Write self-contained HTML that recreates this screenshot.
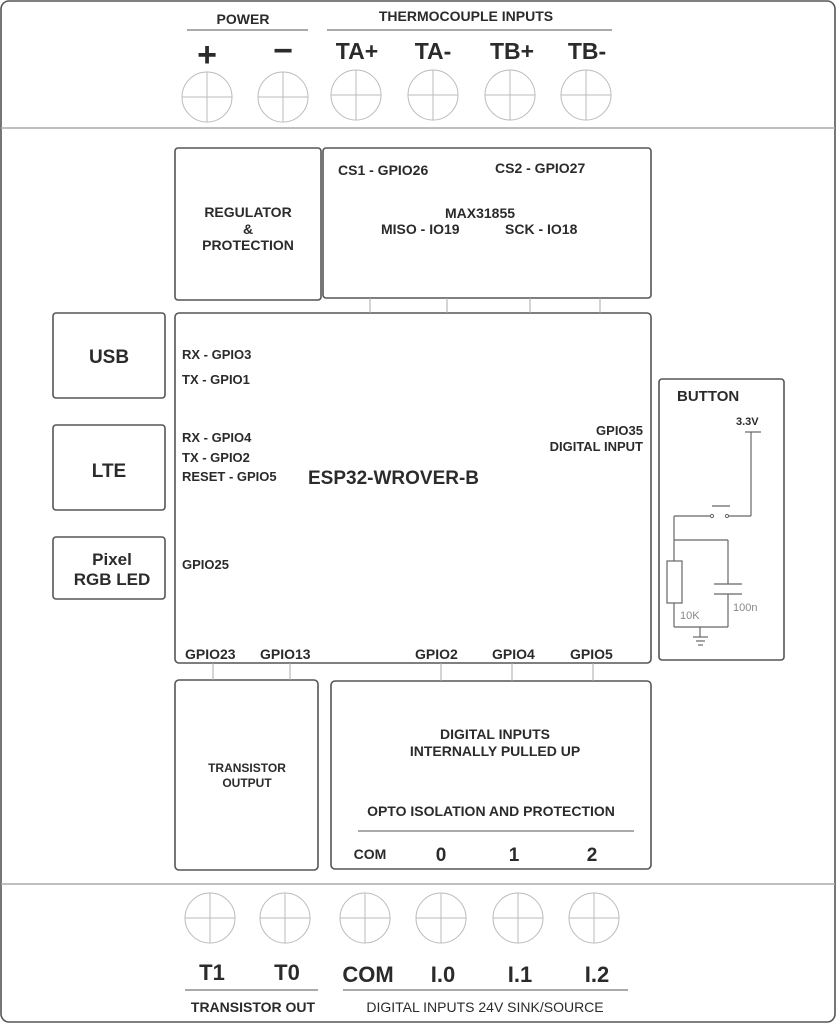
<!DOCTYPE html>
<html><head><meta charset="utf-8"><style>
html,body{margin:0;padding:0;background:#fff;}
svg{display:block;}
text{font-family:"Liberation Sans",sans-serif;font-weight:bold;fill:#2b2b2b;}
</style></head><body>
<svg width="838" height="1024" viewBox="0 0 838 1024" xmlns="http://www.w3.org/2000/svg">
<g fill="none" stroke="#555" stroke-width="1.6">
<rect x="1" y="1" width="834" height="1021" rx="8"/>
<line x1="1" y1="128" x2="835" y2="128" stroke="#aaa"/>
<line x1="1" y1="884" x2="835" y2="884" stroke="#aaa"/>
<rect x="175" y="148" width="146" height="152" rx="3"/>
<rect x="323" y="148" width="328" height="150" rx="3"/>
<rect x="175" y="313" width="476" height="350" rx="4"/>
<rect x="53" y="313" width="112" height="85" rx="3"/>
<rect x="53" y="425" width="112" height="85" rx="3"/>
<rect x="53" y="537" width="112" height="62" rx="3"/>
<rect x="659" y="379" width="125" height="281" rx="3"/>
<rect x="175" y="680" width="143" height="190" rx="4"/>
<rect x="331" y="681" width="320" height="188" rx="4"/>
</g>
<g stroke="#aaa" stroke-width="1">
<line x1="370" y1="298" x2="370" y2="313"/><line x1="447" y1="298" x2="447" y2="313"/>
<line x1="530" y1="298" x2="530" y2="313"/><line x1="600" y1="298" x2="600" y2="313"/>
<line x1="213" y1="663" x2="213" y2="680"/><line x1="290" y1="663" x2="290" y2="680"/>
<line x1="441" y1="663" x2="441" y2="681"/><line x1="512" y1="663" x2="512" y2="681"/>
<line x1="593" y1="663" x2="593" y2="681"/>
</g>
<g stroke="#777" stroke-width="1.3">
<line x1="187" y1="30" x2="308" y2="30"/><line x1="327" y1="30" x2="612" y2="30"/>
<line x1="358" y1="831" x2="634" y2="831"/>
<line x1="185" y1="990" x2="318" y2="990"/><line x1="343" y1="990" x2="628" y2="990"/>
</g>
<g fill="none" stroke="#bbb" stroke-width="1">
<g id="c"></g>
<circle cx="207" cy="97" r="25"/><line x1="182" y1="97" x2="232" y2="97"/><line x1="207" y1="72" x2="207" y2="122"/>
<circle cx="283" cy="97" r="25"/><line x1="258" y1="97" x2="308" y2="97"/><line x1="283" y1="72" x2="283" y2="122"/>
<circle cx="356" cy="95" r="25"/><line x1="331" y1="95" x2="381" y2="95"/><line x1="356" y1="70" x2="356" y2="120"/>
<circle cx="433" cy="95" r="25"/><line x1="408" y1="95" x2="458" y2="95"/><line x1="433" y1="70" x2="433" y2="120"/>
<circle cx="510" cy="95" r="25"/><line x1="485" y1="95" x2="535" y2="95"/><line x1="510" y1="70" x2="510" y2="120"/>
<circle cx="586" cy="95" r="25"/><line x1="561" y1="95" x2="611" y2="95"/><line x1="586" y1="70" x2="586" y2="120"/>
<circle cx="210" cy="918" r="25"/><line x1="185" y1="918" x2="235" y2="918"/><line x1="210" y1="893" x2="210" y2="943"/>
<circle cx="285" cy="918" r="25"/><line x1="260" y1="918" x2="310" y2="918"/><line x1="285" y1="893" x2="285" y2="943"/>
<circle cx="365" cy="918" r="25"/><line x1="340" y1="918" x2="390" y2="918"/><line x1="365" y1="893" x2="365" y2="943"/>
<circle cx="441" cy="918" r="25"/><line x1="416" y1="918" x2="466" y2="918"/><line x1="441" y1="893" x2="441" y2="943"/>
<circle cx="518" cy="918" r="25"/><line x1="493" y1="918" x2="543" y2="918"/><line x1="518" y1="893" x2="518" y2="943"/>
<circle cx="594" cy="918" r="25"/><line x1="569" y1="918" x2="619" y2="918"/><line x1="594" y1="893" x2="594" y2="943"/>
</g>
<!-- button circuit -->
<g fill="none" stroke="#666" stroke-width="1.2">
<line x1="745" y1="432" x2="761" y2="432"/>
<line x1="751" y1="432" x2="751" y2="516"/>
<line x1="751" y1="516" x2="727" y2="516"/>
<line x1="712" y1="506" x2="730" y2="506"/>
<line x1="712" y1="516" x2="674" y2="516"/>
<line x1="674" y1="516" x2="674" y2="627"/>
<line x1="674" y1="540" x2="728" y2="540"/>
<line x1="728" y1="540" x2="728" y2="584"/>
<line x1="714" y1="584" x2="742" y2="584"/>
<line x1="714" y1="594" x2="742" y2="594"/>
<line x1="728" y1="594" x2="728" y2="627"/>
<line x1="674" y1="627" x2="728" y2="627"/>
<rect x="667" y="561" width="15" height="42" fill="#fff"/>
<line x1="700" y1="627" x2="700" y2="637"/>
<line x1="693" y1="637" x2="708" y2="637"/><line x1="696" y1="641" x2="705" y2="641"/><line x1="698" y1="645" x2="703" y2="645"/>
</g>
<circle cx="712" cy="516" r="1.6" fill="#fff" stroke="#666"/><circle cx="727" cy="516" r="1.6" fill="#fff" stroke="#666"/>
<text x="677" y="401" font-size="15">BUTTON</text>
<text x="736" y="425" font-size="11">3.3V</text>
<text x="680" y="619" font-size="11" style="font-weight:normal;fill:#888">10K</text>
<text x="733" y="611" font-size="11" style="font-weight:normal;fill:#888">100n</text>

<g text-anchor="middle">
<text x="243" y="24" font-size="14">POWER</text>
<text x="466" y="21" font-size="14">THERMOCOUPLE  INPUTS</text>
<text x="207" y="66" font-size="34">+</text>
<text x="283" y="62" font-size="34">−</text>
<text x="357" y="59" font-size="23">TA+</text>
<text x="433" y="59" font-size="23">TA-</text>
<text x="512" y="59" font-size="23">TB+</text>
<text x="587" y="59" font-size="23">TB-</text>
<text x="248" y="217" font-size="14">REGULATOR</text>
<text x="248" y="234" font-size="14">&amp;</text>
<text x="248" y="250" font-size="14">PROTECTION</text>
<text x="480" y="218" font-size="14">MAX31855</text>
<text x="109" y="363" font-size="19">USB</text>
<text x="109" y="477" font-size="19">LTE</text>
<text x="112" y="565" font-size="17">Pixel</text>
<text x="112" y="585" font-size="17">RGB LED</text>
<text x="247" y="772" font-size="12">TRANSISTOR</text>
<text x="247" y="787" font-size="12">OUTPUT</text>
<text x="495" y="739" font-size="14">DIGITAL INPUTS</text>
<text x="495" y="756" font-size="14">INTERNALLY PULLED UP</text>
<text x="491" y="816" font-size="14">OPTO ISOLATION AND PROTECTION</text>
<text x="370" y="859" font-size="14">COM</text>
<text x="441" y="861" font-size="19">0</text>
<text x="514" y="861" font-size="19">1</text>
<text x="592" y="861" font-size="19">2</text>
<text x="212" y="980" font-size="22">T1</text>
<text x="287" y="980" font-size="22">T0</text>
<text x="368" y="982" font-size="22">COM</text>
<text x="443" y="982" font-size="22">I.0</text>
<text x="520" y="982" font-size="22">I.1</text>
<text x="597" y="982" font-size="22">I.2</text>
<text x="253" y="1012" font-size="14">TRANSISTOR OUT</text>
<text x="485" y="1012" font-size="14" style="font-weight:normal">DIGITAL INPUTS 24V SINK/SOURCE</text>
</g>
<text x="338" y="175" font-size="14">CS1 - GPIO26</text>
<text x="495" y="173" font-size="14">CS2 - GPIO27</text>
<text x="381" y="234" font-size="14">MISO - IO19</text>
<text x="505" y="234" font-size="14">SCK - IO18</text>
<text x="182" y="359" font-size="13">RX - GPIO3</text>
<text x="182" y="384" font-size="13">TX - GPIO1</text>
<text x="182" y="442" font-size="13">RX - GPIO4</text>
<text x="182" y="462" font-size="13">TX - GPIO2</text>
<text x="182" y="481" font-size="13">RESET - GPIO5</text>
<text x="308" y="484" font-size="19">ESP32-WROVER-B</text>
<text x="182" y="569" font-size="13">GPIO25</text>
<text x="643" y="435" font-size="13" text-anchor="end">GPIO35</text>
<text x="643" y="451" font-size="13" text-anchor="end">DIGITAL INPUT</text>
<text x="185" y="659" font-size="14">GPIO23</text>
<text x="260" y="659" font-size="14">GPIO13</text>
<text x="415" y="659" font-size="14">GPIO2</text>
<text x="492" y="659" font-size="14">GPIO4</text>
<text x="570" y="659" font-size="14">GPIO5</text>
</svg>
</body></html>
